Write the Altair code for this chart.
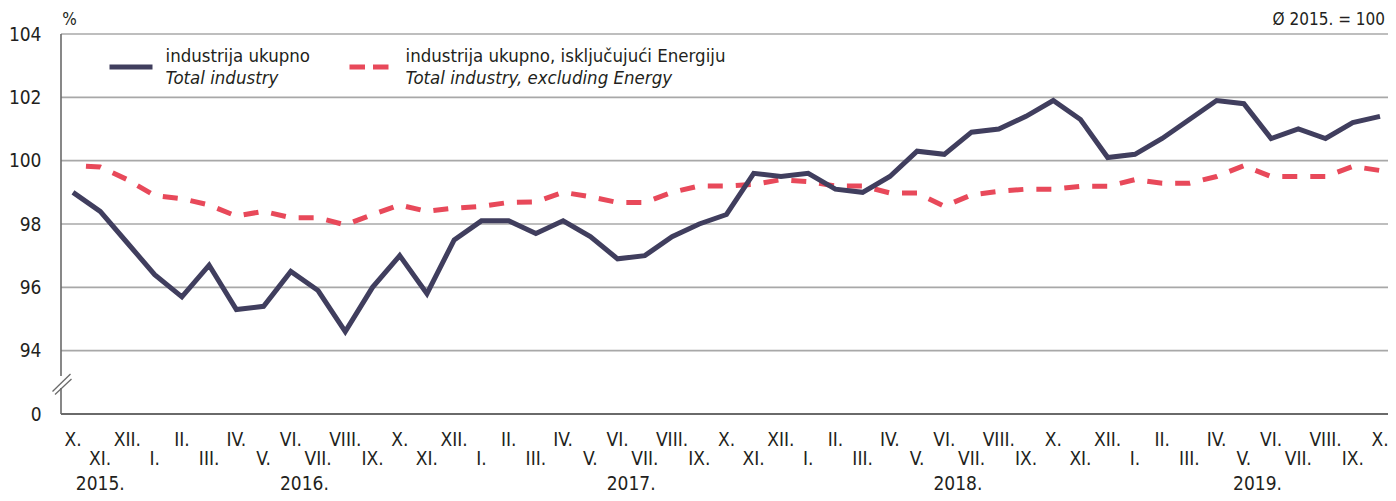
import altair as alt
import pandas as pd

# ---- data ----
months = ["X.", "XI.", "XII.",
          "I.", "II.", "III.", "IV.", "V.", "VI.", "VII.", "VIII.", "IX.", "X.", "XI.", "XII.",
          "I.", "II.", "III.", "IV.", "V.", "VI.", "VII.", "VIII.", "IX.", "X.", "XI.", "XII.",
          "I.", "II.", "III.", "IV.", "V.", "VI.", "VII.", "VIII.", "IX.", "X.", "XI.", "XII.",
          "I.", "II.", "III.", "IV.", "V.", "VI.", "VII.", "VIII.", "IX.", "X."]
years = (["2015."] * 3 + ["2016."] * 12 + ["2017."] * 12 + ["2018."] * 12 + ["2019."] * 10)

total_industry = [99.0, 98.4, 97.4,
                  96.4, 95.7, 96.7, 95.3, 95.4, 96.5, 95.9, 94.6, 96.0, 97.0, 95.8, 97.5,
                  98.1, 98.1, 97.7, 98.1, 97.6, 96.9, 97.0, 97.6, 98.0, 98.3, 99.6, 99.5,
                  99.6, 99.1, 99.0, 99.5, 100.3, 100.2, 100.9, 101.0, 101.4, 101.9, 101.3, 100.1,
                  100.2, 100.7, 101.3, 101.9, 101.8, 100.7, 101.0, 100.7, 101.2, 101.4]
excl_energy = [99.85, 99.8, 99.4,
               98.9, 98.8, 98.6, 98.25, 98.4, 98.2, 98.2, 97.97, 98.3, 98.6, 98.4, 98.5,
               98.56, 98.68, 98.7, 99.0, 98.86, 98.68, 98.68, 99.0, 99.2, 99.2, 99.25, 99.4,
               99.34, 99.2, 99.2, 98.98, 98.98, 98.56, 98.92, 99.03, 99.1, 99.1, 99.19, 99.19,
               99.4, 99.29, 99.29, 99.5, 99.84, 99.5, 99.5, 99.5, 99.82, 99.69]

y_ticks = [92, 94, 96, 98, 100, 102, 104]
grid_values = [94, 96, 98, 100, 102, 104]

series_names = ["industrija ukupno", "industrija ukupno, isključujući Energiju"]
series_names_en = ["Total industry", "Total industry, excluding Energy"]

# ---- styling ----
FONT = "Liberation Sans Narrow, DejaVu Sans Condensed, Roboto Condensed, Arial Narrow, sans-serif"
TEXT = "#231f20"
SOLID = "#403e5e"
RED = "#e8495a"
GRID = "#a8a8a8"
AXIS = "#6a6a6a"
W, H = 1327, 380

n = len(months)
df = pd.DataFrame({
    "idx": list(range(n)),
    "month": months,
    "year": years,
    "total": total_industry,
    "excl": excl_energy,
})

xscale = alt.Scale(domain=[-0.44, n - 1 + 0.294], nice=False, zero=False)
yscale = alt.Scale(domain=[92, 104], nice=False, zero=False)

Y_AXIS = alt.Axis(values=y_ticks, labelExpr="datum.value == 92 ? '0' : datum.label",
                  grid=False, domain=False, ticks=False, labelPadding=20,
                  labelFont=FONT, labelFontSize=19, labelColor=TEXT, title=None)

base = alt.Chart(df)

grid = alt.Chart(pd.DataFrame({"v": grid_values})).mark_rule(
    color=GRID, strokeWidth=1.6
).encode(
    y=alt.Y("v:Q", scale=yscale, axis=Y_AXIS),
    x=alt.value(0), x2=alt.value(W),
)

one = base.transform_filter("datum.idx == 0")

xaxis_line = one.mark_rule(color=AXIS, strokeWidth=2).encode(
    x=alt.value(0), x2=alt.value(W), y=alt.value(H))
yaxis_top = one.mark_rule(color=AXIS, strokeWidth=1.6).encode(
    x=alt.value(0), y=alt.value(0), y2=alt.value(342))
yaxis_bot = one.mark_rule(color=AXIS, strokeWidth=1.6).encode(
    x=alt.value(0), y=alt.value(354), y2=alt.value(H))
break1 = one.mark_rule(color=AXIS, strokeWidth=1.3).encode(
    x=alt.value(-8.5), y=alt.value(357.5), x2=alt.value(9.5), y2=alt.value(340))
break2 = one.mark_rule(color=AXIS, strokeWidth=1.3).encode(
    x=alt.value(-6), y=alt.value(360.5), x2=alt.value(10.5), y2=alt.value(345))

line_excl = base.mark_line(color=RED, strokeWidth=5, strokeDash=[15, 13],
                           strokeDashOffset=15, strokeJoin="miter").encode(
    x=alt.X("idx:Q", scale=xscale, axis=None),
    y=alt.Y("excl:Q", scale=yscale, axis=Y_AXIS),
)
line_total = base.mark_line(color=SOLID, strokeWidth=5, strokeJoin="miter").encode(
    x=alt.X("idx:Q", scale=xscale, axis=None),
    y=alt.Y("total:Q", scale=yscale, axis=Y_AXIS),
)

month_even = base.mark_text(font=FONT, fontSize=19, color=TEXT, baseline="middle").encode(
    x=alt.X("idx:Q", scale=xscale, axis=None), y=alt.value(406), text="month:N"
).transform_filter("datum.idx % 2 == 0")
month_odd = base.mark_text(font=FONT, fontSize=19, color=TEXT, baseline="middle").encode(
    x=alt.X("idx:Q", scale=xscale, axis=None), y=alt.value(425), text="month:N"
).transform_filter("datum.idx % 2 == 1")
year_text = base.transform_aggregate(
    center="mean(idx)", groupby=["year"]
).mark_text(font=FONT, fontSize=19, color=TEXT, baseline="middle").encode(
    x=alt.X("center:Q", scale=xscale, axis=None), y=alt.value(450), text="year:N"
)

# ---- top texts ----
pct = one.mark_text(font=FONT, fontSize=17, color=TEXT, baseline="middle", align="center").encode(
    x=alt.value(8.5), y=alt.value(-14.5), text=alt.value("%"))
base_note = one.mark_text(font=FONT, fontSize=17, color=TEXT, baseline="middle", align="right").encode(
    x=alt.value(1324), y=alt.value(-14), text=alt.value("Ø 2015. = 100"))

# ---- legend ----
leg_solid = one.mark_rule(color=SOLID, strokeWidth=5).encode(
    x=alt.value(48.5), x2=alt.value(91.5), y=alt.value(33))
leg_dash = one.mark_rule(color=RED, strokeWidth=5, strokeDash=[15.5, 8]).encode(
    x=alt.value(288.5), x2=alt.value(327.5), y=alt.value(33))
LEG_FS = 18.5
leg_t1 = one.mark_text(font=FONT, fontSize=LEG_FS, color=TEXT, align="left", baseline="alphabetic").encode(
    x=alt.value(104.5), y=alt.value(27.5), text=alt.value(series_names[0]))
leg_t1e = one.mark_text(font=FONT, fontSize=LEG_FS, color=TEXT, align="left", baseline="alphabetic",
                        fontStyle="italic").encode(
    x=alt.value(104.5), y=alt.value(50), text=alt.value(series_names_en[0]))
leg_t2 = one.mark_text(font=FONT, fontSize=LEG_FS, color=TEXT, align="left", baseline="alphabetic").encode(
    x=alt.value(344.5), y=alt.value(27.5), text=alt.value(series_names[1]))
leg_t2e = one.mark_text(font=FONT, fontSize=LEG_FS, color=TEXT, align="left", baseline="alphabetic",
                        fontStyle="italic").encode(
    x=alt.value(344.5), y=alt.value(50), text=alt.value(series_names_en[1]))

chart = alt.layer(
    grid, xaxis_line, yaxis_top, yaxis_bot, break1, break2,
    line_excl, line_total,
    month_even, month_odd, year_text,
    pct, base_note,
    leg_solid, leg_dash, leg_t1, leg_t1e, leg_t2, leg_t2e,
).properties(
    width=W, height=H,
    autosize=alt.AutoSizeParams(type="none"),
    padding={"left": 53, "top": 26, "right": 0, "bottom": 79},
    background="white",
).configure_view(stroke=None)

chart.save("out.html", embed_options={"renderer": "svg", "actions": False})
